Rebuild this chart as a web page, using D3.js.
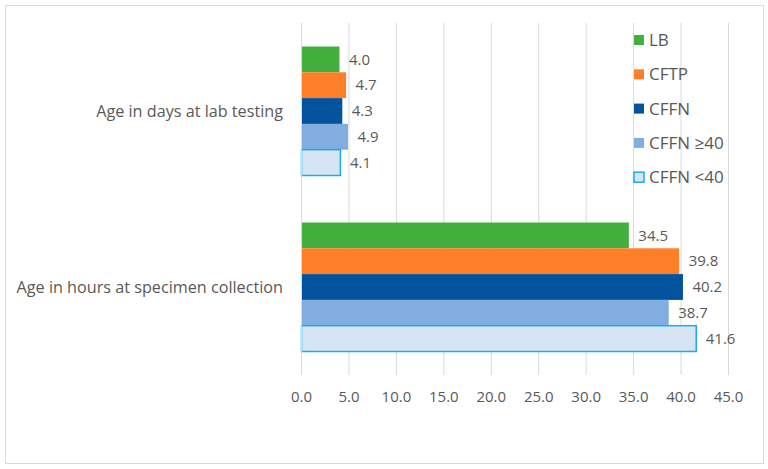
<!DOCTYPE html>
<html><head><meta charset="utf-8">
<script src="https://cdn.jsdelivr.net/npm/d3@7"></script>
<style>body{margin:0;background:#fff}svg{display:block}text{font-family:"Open Sans","Liberation Sans",sans-serif;fill:#595959}</style>
</head><body>
<script>
const categories = ["Age in days at lab testing", "Age in hours at specimen collection"];
const seriesNames = ["LB", "CFTP", "CFFN", "CFFN \u226540", "CFFN <40"];
const daysValues = [4.0, 4.7, 4.3, 4.9, 4.1];
const hoursValues = [34.5, 39.8, 40.2, 38.7, 41.6];
const xTicks = [0, 5, 10, 15, 20, 25, 30, 35, 40, 45];
const fills = ["#43b03e", "#fe7f27", "#02529c", "#82ade0", "#d6e4f4"];
const strokes = [null, null, null, null, "#1aabef"];

(function () {
const W = 768, H = 469;
const svg = d3.select("body").append("svg").attr("width", W).attr("height", H);
svg.append("rect").attr("x", 5.5).attr("y", 5.5).attr("width", 758).attr("height", 458)
  .attr("fill", "#fff").attr("stroke", "#d9d9d9");

const pL = 301, pR = 728, pT = 23, pB = 375;
const x = d3.scaleLinear().domain([0, 45]).range([pL, pR]);
const y = d3.scaleBand().domain(categories).range([pT, pB]).paddingInner(0.267).paddingOuter(0.1335);
const rows = [daysValues, hoursValues];
const yInner = d3.scaleBand().domain(seriesNames).range([0, y.bandwidth()]);

// gridlines
svg.append("g").selectAll("line").data(xTicks).join("line")
  .attr("x1", d => x(d) + 0.5).attr("x2", d => x(d) + 0.5)
  .attr("y1", pT).attr("y2", pB).attr("stroke", "#d9d9d9").attr("stroke-width", 1);

// axis labels
const xAxis = d3.axisBottom(x).tickValues(xTicks).tickFormat(d3.format(".1f")).tickSize(0).tickPadding(0);
const gx = svg.append("g").attr("transform", `translate(0,${pB + 22})`).call(xAxis);
gx.select(".domain").remove();
gx.selectAll("text").attr("font-size", 15).attr("fill", "#595959").attr("dy", "0.35em")
  .style("font-family", '"Open Sans","Liberation Sans",sans-serif');

// bars
categories.forEach((c, ci) => {
  const g = svg.append("g").attr("transform", `translate(0,${y(c)})`);
  g.selectAll("rect").data(rows[ci]).join("rect")
    .attr("x", x(0) + 0.5)
    .attr("y", (d, i) => yInner(seriesNames[i]))
    .attr("width", d => x(d) - x(0))
    .attr("height", yInner.bandwidth())
    .attr("fill", (d, i) => fills[i])
    .attr("stroke", (d, i) => strokes[i] || "none")
    .attr("stroke-width", 1.5);
  g.selectAll("text").data(rows[ci]).join("text")
    .attr("x", d => x(d) + 10)
    .attr("y", (d, i) => yInner(seriesNames[i]) + yInner.bandwidth() / 2)
    .attr("dy", "0.35em").attr("font-size", 15)
    .text(d => d.toFixed(1));
});

// category axis line
svg.append("line").attr("x1", pL + 0.5).attr("x2", pL + 0.5).attr("y1", pT).attr("y2", pB)
  .attr("stroke", "#d9d9d9");

// category labels
svg.append("g").selectAll("text").data(categories).join("text")
  .attr("x", 283).attr("y", d => y(d) + y.bandwidth() / 2)
  .attr("text-anchor", "end").attr("dy", "0.35em").attr("font-size", 16.2)
  .text(d => d);

// legend
const lg = svg.append("g").attr("transform", "translate(634,40)");
seriesNames.forEach((s, i) => {
  const row = lg.append("g").attr("transform", `translate(0,${i * 34.3})`);
  row.append("rect").attr("x", 0).attr("y", -5).attr("width", 10).attr("height", 10)
    .attr("fill", fills[i]).attr("stroke", strokes[i] || "none").attr("stroke-width", 1.5);
  row.append("text").attr("x", 15).attr("y", 0).attr("dy", "0.35em").attr("font-size", 17).text(s);
});
})();
</script>
</body></html>
